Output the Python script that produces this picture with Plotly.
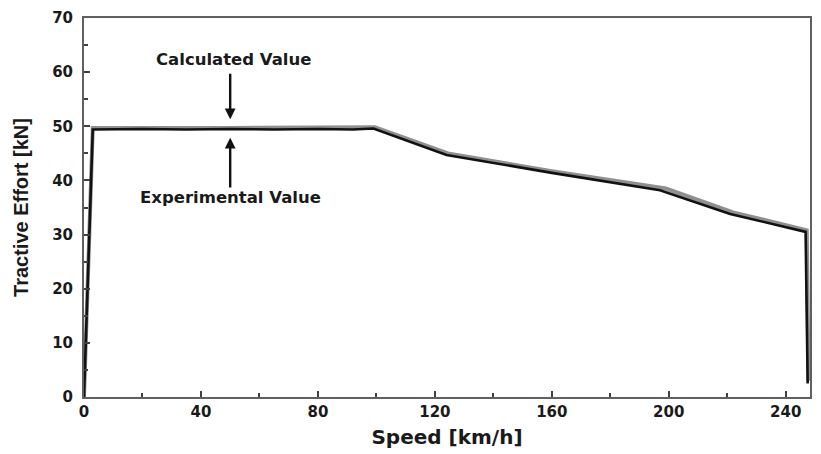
import plotly.graph_objects as go

# Data
calc_speed = [0, 3, 50, 99.5, 124.5, 160, 199, 222, 247.2, 247.8]
calc_effort = [0, 49.7, 49.7, 49.8, 45.0, 41.7, 38.5, 34.1, 30.8, 3.0]

exp_speed = [0, 3, 20, 35, 50, 65, 80, 92, 99, 124, 160, 197, 221, 246.8, 247.5]
exp_effort = [0, 49.4, 49.5, 49.4, 49.5, 49.4, 49.5, 49.4, 49.6, 44.7, 41.4, 38.2, 33.8, 30.5, 2.5]

x_ticks = [0, 40, 80, 120, 160, 200, 240]
y_ticks = [0, 10, 20, 30, 40, 50, 60, 70]

WIDE = "DejaVu Sans, Verdana, sans-serif"
NARROW = "Liberation Sans Narrow, Liberation Sans, Arial, sans-serif"
TXT = "#1a1a1a"

fig = go.Figure()
fig.add_trace(go.Scatter(x=calc_speed, y=calc_effort, mode="lines",
                         line=dict(color="#8f8f8f", width=4), name="Calculated Value",
                         showlegend=False))
fig.add_trace(go.Scatter(x=exp_speed, y=exp_effort, mode="lines",
                         line=dict(color="#111111", width=2.6), name="Experimental Value",
                         showlegend=False))

axis_common = dict(showline=True, linecolor="#606060", linewidth=2, mirror=True,
                   ticks="inside", tickcolor="#404040", tickwidth=1.5, ticklen=6,
                   showgrid=False, zeroline=False,
                   tickfont=dict(family=WIDE, size=15, color=TXT, weight="bold"))

fig.update_xaxes(range=[0, 248.3], tickvals=x_ticks,
                 minor=dict(ticks="inside", ticklen=4, tickcolor="#404040", dtick=20, tick0=0),
                 title=dict(text="Speed [km/h]", font=dict(family=WIDE, size=20, color=TXT, weight="bold"),
                            standoff=10),
                 **axis_common)
fig.update_yaxes(range=[0, 70], tickvals=y_ticks, ticklabelstandoff=6,
                 minor=dict(ticks="inside", ticklen=4, tickcolor="#404040", dtick=5, tick0=0),
                 title=dict(text="Tractive Effort [kN]", font=dict(family=NARROW, size=20, color=TXT, weight="bold"),
                            standoff=18),
                 **axis_common)

# Arrows
fig.add_annotation(x=50, y=51.3, ax=50, ay=60.0, xref="x", yref="y", axref="x", ayref="y",
                   showarrow=True, arrowhead=2, arrowsize=0.9, arrowwidth=2.4, arrowcolor="#111111", text="")
fig.add_annotation(x=50, y=47.9, ax=50, ay=38.4, xref="x", yref="y", axref="x", ayref="y",
                   showarrow=True, arrowhead=2, arrowsize=0.9, arrowwidth=2.4, arrowcolor="#111111", text="")
fig.add_annotation(x=51, y=62.4, xref="x", yref="y", showarrow=False, text="Calculated Value",
                   font=dict(family=WIDE, size=16.5, color=TXT, weight="bold"))
fig.add_annotation(x=50, y=36.8, xref="x", yref="y", showarrow=False, text="Experimental Value",
                   font=dict(family=WIDE, size=16.5, color=TXT, weight="bold"))

fig.update_layout(width=821, height=454, margin=dict(l=84, r=9, t=14, b=56),
                  plot_bgcolor="white", paper_bgcolor="white", showlegend=False)

fig.write_html("out.html")
